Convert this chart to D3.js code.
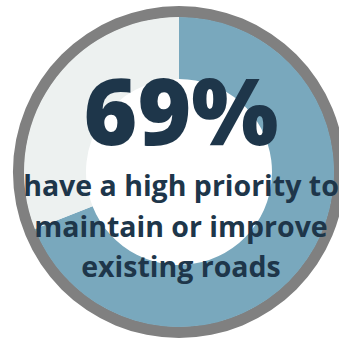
<!DOCTYPE html>
<html>
<head>
<meta charset="utf-8">
<script src="https://cdn.jsdelivr.net/npm/d3@7/dist/d3.min.js"></script>
<style>
  html, body { margin: 0; padding: 0; background: #ffffff; overflow: hidden; }
  svg { display: block; }
</style>
</head>
<body>
<svg id="chart" width="339" height="339"></svg>
<script>
// Share of respondents giving a high priority to maintaining / improving existing roads
const categories = ["High priority", "Other"];
const values = [69, 31];
const colors = ["#79a8bd", "#edf1f0"];
const headline = "69%";
const captionLines = ["have a high priority to", "maintain or improve", "existing roads"];

const svg = d3.select("#chart");
const cx = 179, cy = 172;
const ringOuter = 166, ringInner = 155, holeR = 93;

const g = svg.append("g").attr("transform", `translate(${cx},${cy})`);

// outer grey frame
g.append("path")
  .attr("d", d3.arc().innerRadius(ringInner - 0.5).outerRadius(ringOuter)({startAngle: 0, endAngle: 2 * Math.PI}))
  .attr("fill", "#808080");

const pie = d3.pie().sort(null).value(d => d.value);
const arc = d3.arc().innerRadius(holeR).outerRadius(ringInner);
const data = categories.map((c, i) => ({category: c, value: values[i]}));

g.selectAll("path.slice")
  .data(pie(data))
  .join("path")
  .attr("class", "slice")
  .attr("d", arc)
  .attr("fill", (d, i) => colors[i]);

// headline value
g.append("text")
  .attr("x", 2)
  .attr("y", 145 - cy)
  .attr("text-anchor", "middle")
  .attr("font-family", "'Open Sans', sans-serif")
  .attr("font-weight", 800)
  .attr("font-size", 92)
  .attr("fill", "#1e364a")
  .text(headline);

// caption
const baselines = [196, 237, 277];
g.selectAll("text.caption")
  .data(captionLines)
  .join("text")
  .attr("class", "caption")
  .attr("x", 2)
  .attr("y", (d, i) => baselines[i] - cy)
  .attr("text-anchor", "middle")
  .attr("font-family", "'Open Sans', sans-serif")
  .attr("font-weight", 700)
  .attr("font-size", 28.5)
  .attr("fill", "#1e364a")
  .text(d => d);
</script>
</body>
</html>
